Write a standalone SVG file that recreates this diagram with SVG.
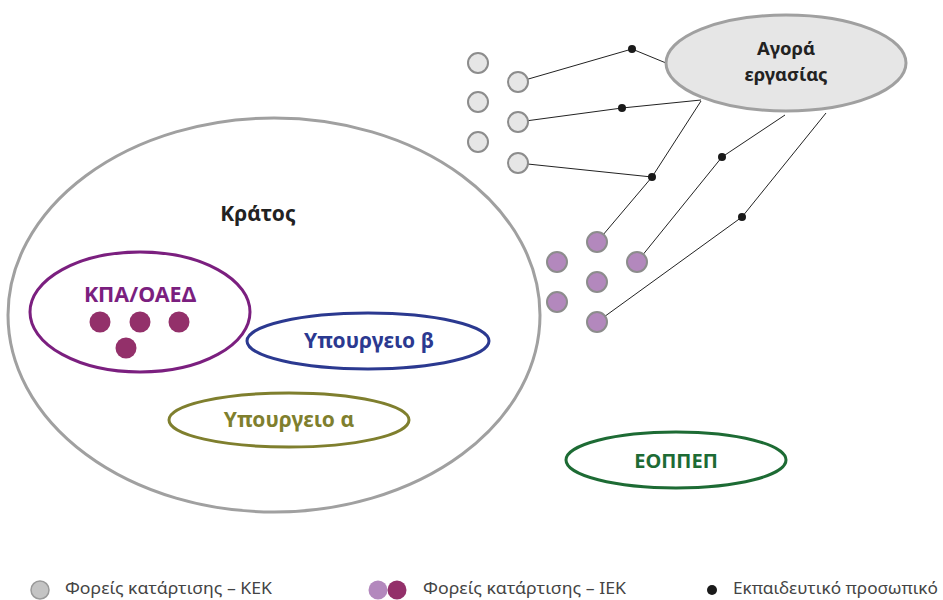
<svg xmlns="http://www.w3.org/2000/svg" width="943" height="600" viewBox="0 0 943 600">
<style>
.lbl{font-family:"Noto Sans","Liberation Sans",sans-serif;font-weight:bold;text-anchor:middle}
.leg{font-family:"Noto Sans","Liberation Sans",sans-serif;font-size:17px;fill:#444}
.kek{fill:#e6e6e6;stroke:#8c8c8c;stroke-width:2}
.iek{fill:#b388bd;stroke:#8c8c8c;stroke-width:2}
.kpa{fill:#93306a}
.con{fill:none;stroke:#222;stroke-width:1}
.dot{fill:#1a1a1a}
</style>
<rect width="943" height="600" fill="#fff"/>
<g id="kratos">
<ellipse cx="274" cy="315" rx="266" ry="197" fill="none" stroke="#a0a0a0" stroke-width="3"/>
<text class="lbl" x="258" y="221" font-size="21" fill="#222">Κράτος</text>
</g>
<g id="kpa-oaed">
<ellipse cx="140" cy="312" rx="110" ry="60" fill="none" stroke="#7b1f7f" stroke-width="3"/>
<text class="lbl" x="140" y="302" font-size="21.5" fill="#7b1f7f">ΚΠΑ/ΟΑΕΔ</text>
<circle class="kpa" cx="100" cy="322" r="10.5"/>
<circle class="kpa" cx="140" cy="322" r="10.5"/>
<circle class="kpa" cx="179" cy="322" r="10.5"/>
<circle class="kpa" cx="126" cy="348" r="10.5"/>
</g>
<g id="ypourgeio-b">
<ellipse cx="368" cy="341" rx="121" ry="28" fill="none" stroke="#2b3990" stroke-width="3"/>
<text class="lbl" x="369" y="348" font-size="21" fill="#2b3990">Υπουργειο β</text>
</g>
<g id="ypourgeio-a">
<ellipse cx="289" cy="420" rx="120" ry="27" fill="none" stroke="#7f7f2e" stroke-width="3"/>
<text class="lbl" x="289" y="427" font-size="21" fill="#7f7f2e">Υπουργειο α</text>
</g>
<g id="eoppep">
<ellipse cx="676" cy="460" rx="110" ry="28" fill="none" stroke="#1d6b34" stroke-width="3"/>
<text class="lbl" x="676" y="468" font-size="20" fill="#1d6b34">ΕΟΠΠΕΠ</text>
</g>
<g id="connectors">
<polyline class="con" points="518,82 632,49 666,63"/>
<polyline class="con" points="518,122 622,108 701,100"/>
<polyline class="con" points="518,163 652,177"/>
<polyline class="con" points="597,242 652,177 701,101"/>
<polyline class="con" points="637,262 722,157 785,115"/>
<polyline class="con" points="597,322 742,217 826,113"/>
</g>
<g id="agora">
<ellipse cx="786" cy="63" rx="120" ry="48" fill="#e6e6e6" stroke="#a0a0a0" stroke-width="3"/>
<text class="lbl" x="786" y="55" font-size="18.5" fill="#222">Αγορά</text>
<text class="lbl" x="786" y="81" font-size="18.5" fill="#222">εργασίας</text>
</g>
<g id="kek">
<circle class="kek" cx="478" cy="63" r="10"/>
<circle class="kek" cx="478" cy="102" r="10"/>
<circle class="kek" cx="478" cy="142" r="10"/>
<circle class="kek" cx="518" cy="82" r="10"/>
<circle class="kek" cx="518" cy="122" r="10"/>
<circle class="kek" cx="518" cy="163" r="10"/>
</g>
<g id="iek">
<circle class="iek" cx="597" cy="242" r="10"/>
<circle class="iek" cx="557" cy="262" r="10"/>
<circle class="iek" cx="637" cy="262" r="10"/>
<circle class="iek" cx="597" cy="282" r="10"/>
<circle class="iek" cx="557" cy="302" r="10"/>
<circle class="iek" cx="597" cy="322" r="10"/>
</g>
<g id="staff">
<circle class="dot" cx="632" cy="49" r="4"/>
<circle class="dot" cx="622" cy="108" r="4"/>
<circle class="dot" cx="652" cy="177" r="4"/>
<circle class="dot" cx="722" cy="157" r="4"/>
<circle class="dot" cx="742" cy="217" r="4"/>
</g>
<g id="legend">
<circle cx="40" cy="590" r="9" fill="#c4c4c4" stroke="#9a9a9a" stroke-width="1.5"/>
<text class="leg" x="65" y="594" textLength="207" lengthAdjust="spacingAndGlyphs">Φορείς κατάρτισης – ΚΕΚ</text>
<circle cx="378" cy="590" r="9.5" fill="#b388bd"/>
<circle cx="397" cy="590" r="9.5" fill="#93306a"/>
<text class="leg" x="423" y="594" textLength="203" lengthAdjust="spacingAndGlyphs">Φορείς κατάρτισης – ΙΕΚ</text>
<circle cx="712" cy="590" r="5" fill="#1a1a1a"/>
<text class="leg" x="733" y="594" textLength="205" lengthAdjust="spacingAndGlyphs">Εκπαιδευτικό προσωπικό</text>
</g>
</svg>
